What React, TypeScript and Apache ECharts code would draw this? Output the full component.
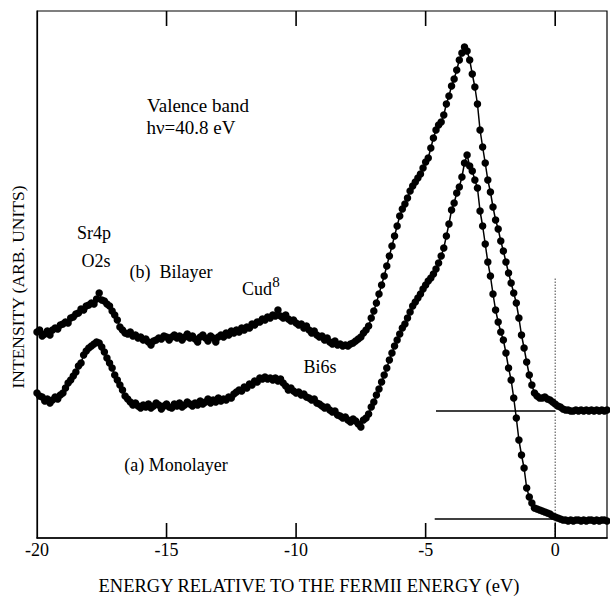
import React, { useEffect, useRef } from "react";
import * as echarts from "echarts";

// Energy channels (eV), start and step of the measured spectra
const energyStart = -20;
const energyStep = 0.1;

// (b) Bilayer spectrum, intensity (arb. units), one value per channel from -20.0 to 2.0 eV
const bilayer = [
  206, 208, 202, 204, 207, 203, 208, 210, 209, 213,
  214, 216, 215, 220, 221, 224, 225, 229, 228, 232,
  233, 235, 234, 239, 245, 238, 237, 234, 232, 227,
  223, 218, 211, 208, 205, 204, 206, 202, 203, 200,
  201, 198, 199, 196, 193, 197, 198, 200, 199, 202,
  201, 198, 201, 203, 200, 202, 198, 201, 204, 200,
  202, 199, 196, 201, 203, 200, 197, 202, 200, 196,
  201, 203, 201, 205, 203, 207, 205, 208, 206, 210,
  208, 211, 210, 214, 213, 216, 216, 219, 218, 221,
  220, 223, 222, 228, 222, 220, 223, 219, 217, 218,
  215, 213, 214, 210, 212, 208, 205, 207, 203, 201,
  202, 198, 200, 196, 194, 197, 193, 194, 192, 193,
  192, 194, 195, 197, 199, 201, 205, 208, 212, 220,
  227, 235, 244, 253, 262, 272, 282, 292, 302, 312,
  322, 329, 334, 340, 347, 352, 356, 360, 364, 370,
  376, 380, 390, 400, 408, 413, 416, 423, 434, 442,
  452, 459, 468, 478, 485, 491, 487, 478, 464, 451,
  434, 408, 391, 375, 358, 346, 331, 318, 309, 297,
  287, 276, 265, 255, 245, 235, 220, 203, 190, 176,
  163, 153, 145, 142, 140, 140, 141, 139, 138, 136,
  134, 132, 131, 129, 128, 128, 127, 127, 128, 127,
  128, 127, 128, 127, 128, 127, 128, 127, 128, 127,
  128,
];

// (a) Monolayer spectrum, intensity (arb. units), same channels
const monolayer = [
  145, 142, 141, 137, 139, 135, 138, 141, 139, 143,
  145, 150, 155, 158, 162, 166, 172, 175, 183, 187,
  190, 192, 194, 196, 195, 191, 186, 180, 175, 170,
  163, 158, 153, 148, 142, 139, 136, 133, 135, 132,
  130, 133, 131, 134, 130, 132, 135, 133, 129, 132,
  134, 131, 130, 134, 132, 135, 131, 133, 136, 134,
  132, 135, 133, 137, 134, 136, 139, 135, 138, 136,
  140, 137, 139, 138, 141, 140, 144, 146, 148, 147,
  151, 150, 154, 153, 157, 156, 160, 159, 161, 159,
  160, 158, 160, 157, 159, 155, 152, 148, 150, 147,
  145, 146, 143, 144, 141, 140, 138, 139, 135, 134,
  132, 130, 131, 128, 126, 127, 123, 122, 120, 121,
  118, 116, 119, 117, 114, 111, 118, 120, 124, 131,
  136, 143, 149, 156, 163, 170, 178, 185, 192, 198,
  204, 210, 214, 220, 226, 232, 236, 240, 244, 249,
  253, 257, 260, 264, 269, 275, 282, 290, 302, 314,
  328, 335, 345, 351, 361, 375, 383, 372, 367, 358,
  350, 327, 312, 294, 276, 262, 244, 228, 216, 206,
  198, 185, 170, 158, 140, 120, 98, 83, 70, 50,
  41, 35, 30, 29, 28, 27, 26, 25, 24, 22,
  21, 20, 19, 18, 18, 17, 18, 17, 18, 18,
  17, 18, 17, 18, 18, 17, 18, 17, 18, 18,
  17,
];

// Axis settings
const xMin = -20;
const xMax = 2;
const xInterval = 5;
const xTicks = [-15, -10, -5, 0];
const yMin = 0;
const yMax = 527;
const tickLength = 15; // in intensity units (frame ticks)

// Background level reference lines
const baselineStarts = [-4.6, -4.65];
const baselineEnds = [0, 0];
const baselineLevels = [127, 19];

// Fermi level marker
const fermiEnergy = 0;
const fermiLineTop = 260;

const FONT = "'Liberation Serif', 'Times New Roman', serif";
const INK = "#000";

const toPairs = (vals: number[]) =>
  vals.map((v, i) => [Number((energyStart + i * energyStep).toFixed(2)), v]);

export default function App() {
  const ref = useRef<HTMLDivElement>(null);

  useEffect(() => {
    if (!ref.current) return;
    const chart = echarts.init(ref.current, undefined, { renderer: "svg" });

    const spectrumSeries = (name: string, vals: number[]) => ({
      name,
      type: "line",
      data: toPairs(vals),
      symbol: "circle",
      symbolSize: 7.5,
      showSymbol: true,
      lineStyle: { color: INK, width: 1.5 },
      itemStyle: { color: INK },
      silent: true,
      z: 5,
    });

    const segment = (a: number[], b: number[], width: number, color = INK) => ({
      type: "line",
      data: [a, b],
      symbol: "none",
      lineStyle: { color, width },
      itemStyle: { color },
      silent: true,
      z: 6,
    });

    const baselineSeries = baselineLevels.map((lvl, i) =>
      segment([baselineStarts[i], lvl], [baselineEnds[i], lvl], 1.3)
    );

    // frame ticks along bottom and top edges
    const tickData: any[] = [];
    xTicks.forEach((t) => {
      tickData.push([t, yMin], [t, yMin + tickLength], "-");
    });
    const topTickData: any[] = [];
    xTicks.forEach((t) => {
      topTickData.push([t, yMax], [t, yMax - tickLength], "-");
    });

    const tickSeries = (data: any[]) => ({
      type: "line",
      data,
      symbol: "none",
      connectNulls: false,
      lineStyle: { color: INK, width: 1.6 },
      silent: true,
      z: 8,
    });

    const txt = (text: string, x: number, y: number, size = 18, extra: any = {}) => ({
      type: "text",
      x,
      y,
      silent: true,
      ...extra,
      style: {
        text,
        fontSize: size,
        fontFamily: FONT,
        fill: INK,
        align: "center",
        verticalAlign: "middle",
      },
    });

    chart.setOption({
      animation: false,
      backgroundColor: "#fff",
      grid: {
        left: 37,
        right: 2,
        top: 11,
        bottom: 60,
        show: true,
        borderColor: INK,
        borderWidth: 1.2,
        backgroundColor: "transparent",
      },
      xAxis: {
        type: "value",
        min: xMin,
        max: xMax,
        interval: xInterval,
        position: "bottom",
        splitLine: { show: false },
        axisLine: { show: true, onZero: false, lineStyle: { color: INK, width: 1.6 } },
        axisTick: { show: false },
        axisLabel: {
          color: INK,
          fontFamily: FONT,
          fontSize: 18,
          margin: 3,
          formatter: (v: number) => (v % xInterval === 0 ? String(v) : ""),
        },
      },
      yAxis: {
        type: "value",
        min: yMin,
        max: yMax,
        position: "left",
        splitLine: { show: false },
        axisLine: { show: true, onZero: false, lineStyle: { color: INK, width: 1.2 } },
        axisTick: { show: false },
        axisLabel: { show: false },
      },
      series: [
        spectrumSeries("(b) Bilayer", bilayer),
        spectrumSeries("(a) Monolayer", monolayer),
        ...baselineSeries,
        tickSeries(tickData),
        tickSeries(topTickData),
        {
          type: "line",
          data: [
            [fermiEnergy, yMin],
            [fermiEnergy, fermiLineTop],
          ],
          symbol: "none",
          lineStyle: { color: "#444", width: 1, type: [1.5, 1.5] },
          silent: true,
          z: 2,
        },
      ],
      graphic: [
        txt("Valence band", 198, 105, 19),
        txt("hν=40.8 eV", 191, 127, 19),
        txt("Sr4p", 94, 233, 18),
        txt("O2s", 96, 261, 18),
        txt("(b)  Bilayer", 171, 272, 18),
        txt("Cud", 257, 289, 18),
        txt("8", 276, 282, 15),
        txt("Bi6s", 320, 367, 18),
        txt("(a) Monolayer", 176, 465, 18),
        txt("ENERGY RELATIVE TO THE FERMII ENERGY (eV)", 309, 586, 18.5),
        txt("INTENSITY (ARB. UNITS)", 18, 287, 17.5, { rotation: Math.PI / 2 }),
      ],
    });

    return () => chart.dispose();
  }, []);

  return (
    <div
      ref={ref}
      style={{ position: "absolute", left: 0, top: 0, width: 610, height: 598, background: "#fff" }}
    />
  );
}
